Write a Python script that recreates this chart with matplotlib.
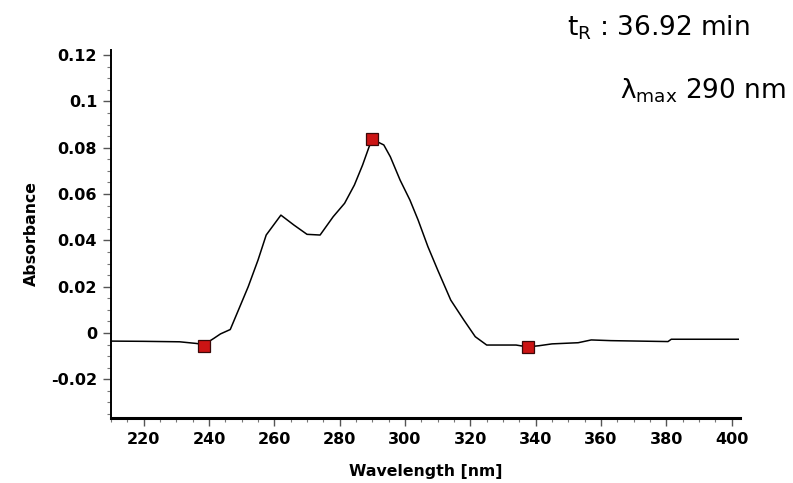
import matplotlib
matplotlib.use("Agg")
import matplotlib.pyplot as plt
from matplotlib.ticker import MultipleLocator, FuncFormatter

# UV spectrum of the peak (wavelength in nm, absorbance in AU)
wavelength = [210, 220, 231, 236, 238.5, 241.5, 243.5, 246.5, 249, 252, 255, 257.5,
              262, 266, 270, 274, 278, 281.5, 284.5, 287, 289, 290, 293.5, 295.5,
              298.5, 301.5, 304, 307, 310, 314, 318, 321.5, 325, 334, 337.5, 341,
              345, 353, 357, 363, 380.5, 381.5, 402]
absorbance = [-0.0035, -0.0036, -0.0038, -0.0045, -0.0050, -0.0023, -0.0004, 0.0015,
              0.0099, 0.0200, 0.0315, 0.0423, 0.0509, 0.0466, 0.0426, 0.0423, 0.0502,
              0.0560, 0.0639, 0.0725, 0.0804, 0.0836, 0.0812, 0.0761, 0.0660, 0.0574,
              0.0488, 0.0373, 0.0272, 0.0142, 0.0056, -0.0016, -0.0052, -0.0052,
              -0.0060, -0.0055, -0.0047, -0.0042, -0.0030, -0.0033, -0.0037, -0.0027,
              -0.0027]

# Marked points on the spectrum
marker_wl = [238.5, 290, 337.5]
marker_abs = [-0.0056, 0.0836, -0.0062]

x_ticks = [220, 240, 260, 280, 300, 320, 340, 360, 380, 400]
y_ticks = [-0.02, 0, 0.02, 0.04, 0.06, 0.08, 0.1, 0.12]

retention_text = r"t$_{\mathregular{R}}$ : 36.92 min"
lambda_text = r"λ$_{\mathregular{max}}$ 290 nm"

fig = plt.figure(figsize=(7.93, 4.83), dpi=100)
ax = fig.add_axes([0.140, 0.1346, 0.793, 0.7619])

ax.plot(wavelength, absorbance, color="black", lw=1.1, zorder=2)
ax.plot(marker_wl, marker_abs, linestyle="none", marker="s", markersize=9,
        markerfacecolor="#cc1414", markeredgecolor="#3a0808", markeredgewidth=0.9,
        zorder=3)

ax.set_xlim(210, 402.5)
ax.set_ylim(-0.0367, 0.1222)

for side in ("top", "right"):
    ax.spines[side].set_visible(False)
ax.spines["left"].set_linewidth(1.4)
ax.spines["bottom"].set_linewidth(2.2)

ax.set_xticks(x_ticks)
ax.set_yticks(y_ticks)
ax.xaxis.set_minor_locator(MultipleLocator(5))
ax.yaxis.set_minor_locator(MultipleLocator(0.005))


def fmt_y(v, pos):
    if abs(v) < 1e-12:
        return "0"
    return f"{v:g}"


ax.yaxis.set_major_formatter(FuncFormatter(fmt_y))

tick_font = dict(family="DejaVu Sans", weight="bold", size=11.5)
ax.tick_params(axis="both", which="major", direction="out", length=6, width=1.0,
               color="#555555", pad=4)
ax.tick_params(axis="both", which="minor", direction="out", length=3, width=0.8,
               color="#777777")
for lab in ax.get_xticklabels() + ax.get_yticklabels():
    lab.set_fontproperties(tick_font)

ax.set_xlabel("Wavelength [nm]", family="DejaVu Sans", weight="bold",
              size=11.3, labelpad=12)
ax.set_ylabel("Absorbance", family="DejaVu Sans", weight="bold",
              size=11.3, labelpad=9)

fig.text(0.715, 0.926, retention_text, family="DejaVu Sans", size=19,
         ha="left", va="baseline")
fig.text(0.782, 0.797, lambda_text, family="DejaVu Sans", size=19,
         ha="left", va="baseline")

fig.savefig("out.png", dpi=100)
